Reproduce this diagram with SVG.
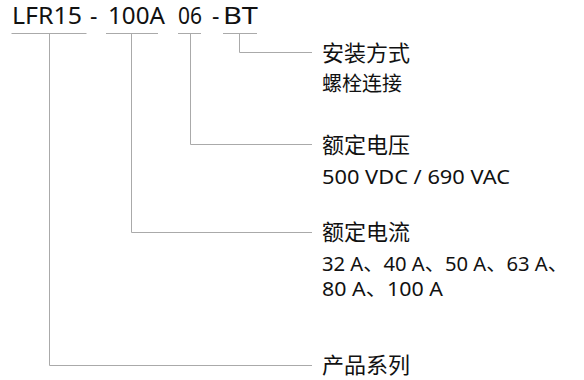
<svg xmlns="http://www.w3.org/2000/svg" width="584" height="380" viewBox="0 0 584 380">
<style>
.t{font-family:"Noto Sans","Noto Sans CJK SC",sans-serif;fill:#111}
.h{font-size:22px}
.s{font-size:20px}
.ti{font-size:23px}
.ln{stroke:#aaa;stroke-width:1;fill:none}
</style>
<rect width="584" height="380" fill="#fff"/>
<g id="title">
<text class="t ti" x="12" y="24" textLength="70" lengthAdjust="spacingAndGlyphs">LFR15</text>
<text class="t ti" x="90" y="24">-</text>
<text class="t ti" x="108" y="24" textLength="57" lengthAdjust="spacingAndGlyphs">100A</text>
<text class="t ti" x="178" y="24" textLength="24" lengthAdjust="spacingAndGlyphs">06</text>
<text class="t ti" x="212" y="24">-</text>
<text class="t ti" x="223" y="24" textLength="35" lengthAdjust="spacingAndGlyphs">BT</text>
</g>
<g id="connectors">
<path class="ln" d="M11.5 33.5H86.5M106 33.5H158M178 33.5H201M223 33.5H257"/>
<path class="ln" d="M239.5 33.5V52.5H312"/>
<path class="ln" d="M190.5 33.5V144.5H312"/>
<path class="ln" d="M131.5 33.5V232.5H312"/>
<path class="ln" d="M49.5 33.5V365.5H312"/>
</g>
<g id="mount"><text class="t h" x="322" y="61">安装方式</text><text class="t s" x="322" y="91">螺栓连接</text></g>
<g id="voltage"><text class="t h" x="322" y="153">额定电压</text><text class="t s" x="322" y="184" textLength="188" lengthAdjust="spacingAndGlyphs">500 VDC / 690 VAC</text></g>
<g id="current"><text class="t h" x="322" y="240">额定电流</text><text class="t s" x="322" y="271" textLength="246" lengthAdjust="spacingAndGlyphs">32 A、40 A、50 A、63 A、</text><text class="t s" x="322" y="296" textLength="121" lengthAdjust="spacingAndGlyphs">80 A、100 A</text></g>
<g id="series"><text class="t h" x="322" y="373">产品系列</text></g>
</svg>
